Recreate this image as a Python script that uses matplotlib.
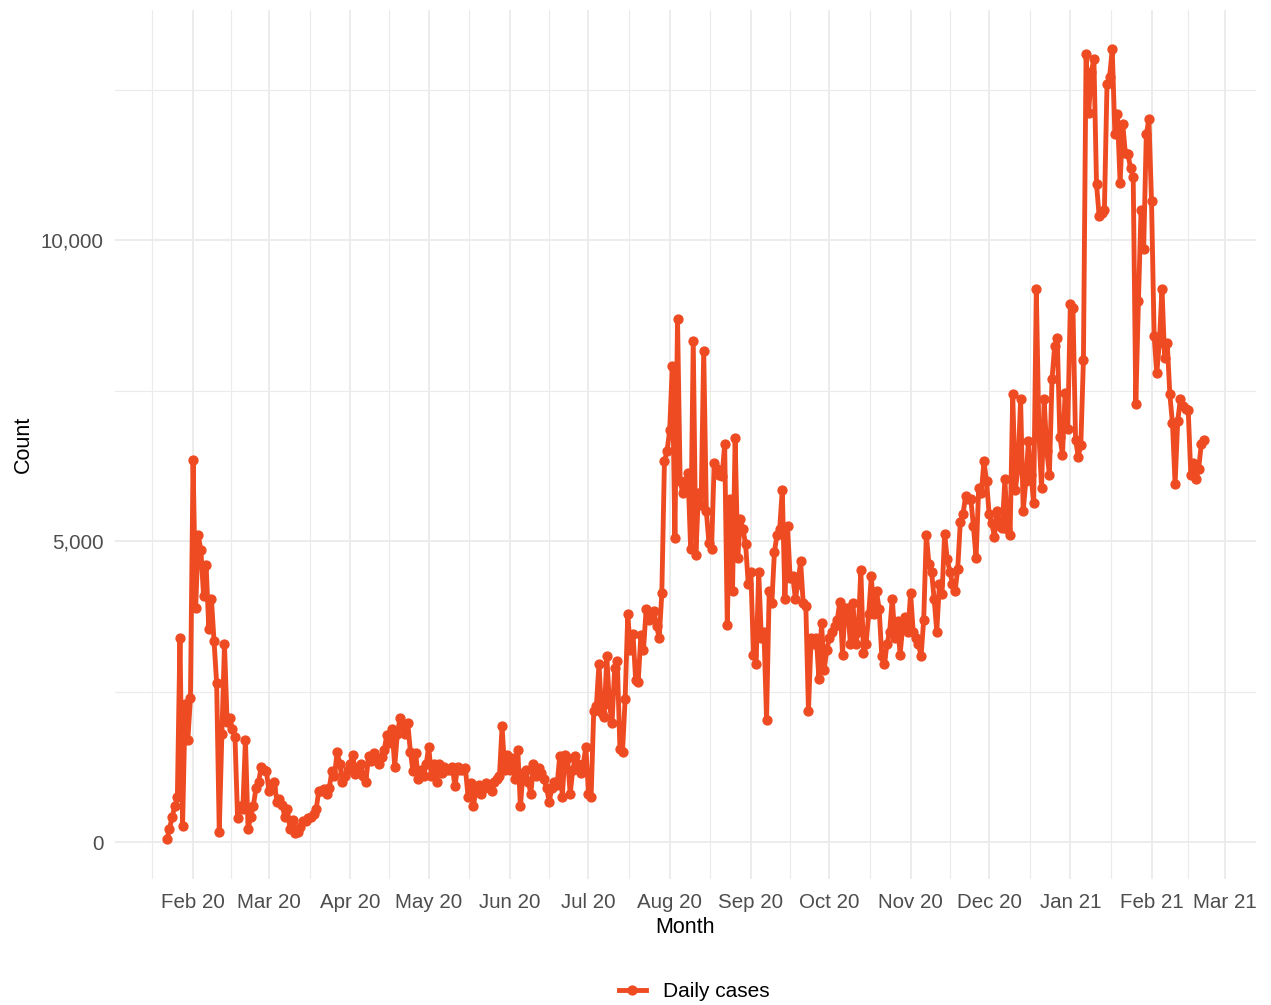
import matplotlib
matplotlib.use("Agg")
import matplotlib.pyplot as plt
import matplotlib.dates as mdates
from matplotlib.ticker import FuncFormatter, FixedLocator
import pandas as pd

# daily counts (series starts 22 Jan 2020)
jan20 = [50, 230, 420, 600, 750, 3400, 280, 2300, 1700, 2400]
feb20 = [6350, 3900, 5100, 4850, 4100, 4600, 3550, 4050, 3350, 2650, 180, 1800, 3290, 2000, 2060,
         1890, 1760, 400, 600, 550, 1710, 220, 430, 600, 900, 1000, 1250, 1200, 1180]
mar20 = [850, 900, 1010, 680, 730, 630, 430, 550, 230, 380, 150, 180, 250, 350, 350, 400, 420, 470,
         550, 850, 850, 880, 800, 900, 1180, 1100, 1500, 1310, 1010, 1100, 1200]
apr20 = [1300, 1460, 1130, 1250, 1300, 1100, 1010, 1430, 1350, 1480, 1400, 1310, 1420, 1540, 1790,
         1650, 1890, 1260, 1800, 2060, 1930, 1800, 1980, 1500, 1180, 1480, 1060, 1200, 1100, 1300]
may20 = [1590, 1100, 1310, 1010, 1300, 1150, 1250, 1200, 1200, 1260, 930, 1250, 1200, 1200, 1230,
         760, 980, 600, 850, 960, 800, 900, 980, 900, 850, 1000, 1060, 1100, 1930, 1200, 1450]
jun20 = [1200, 1400, 1050, 1540, 600, 1150, 1210, 1000, 810, 1310, 1100, 1230, 1150, 1050, 900,
         680, 900, 1010, 950, 1430, 760, 1460, 1400, 810, 1200, 1430, 1310, 1150, 1300, 1590]
jul20 = [800, 760, 2180, 2260, 2970, 2150, 2090, 3090, 2300, 1980, 2900, 3010, 1560, 1510, 2390,
         3790, 3200, 3470, 2700, 2670, 3450, 3200, 3870, 3700, 3800, 3840, 3600, 3390, 4140, 6330, 6500]
aug20 = [6850, 7910, 5050, 8690, 6000, 5800, 6000, 6130, 4880, 8320, 4780, 5800, 5600, 8160, 5500,
         4970, 4880, 6300, 6200, 6100, 6080, 6610, 3620, 5700, 4170, 6710, 4720, 5380, 5200, 4950, 4300]
sep20 = [4500, 3120, 2970, 4500, 3400, 3500, 2040, 4170, 3970, 4830, 5110, 5200, 5860, 4050, 5250,
         4400, 4420, 4050, 4300, 4670, 3970, 3920, 2180, 3390, 3300, 3390, 2720, 3640, 2870, 3200]
oct20 = [3400, 3500, 3600, 3700, 4000, 3120, 3900, 3890, 3300, 3970, 3290, 3500, 4530, 3140, 3300,
         3800, 4420, 3800, 4170, 3870, 3090, 2960, 3300, 3500, 4050, 3400, 3670, 3120, 3600, 3750, 3500]
nov20 = [4140, 3500, 3400, 3300, 3090, 3700, 5110, 4630, 4500, 4040, 3500, 4290, 4120, 5130, 4700,
         4500, 4290, 4170, 4550, 5330, 5450, 5750, 5700, 5700, 5250, 4720, 5880, 5800, 6330, 6000]
dec20 = [5450, 5300, 5080, 5500, 5250, 5220, 6030, 5200, 5110, 7440, 5860, 6200, 7360, 5500, 6000,
         6660, 6100, 5630, 9190, 6800, 5880, 7360, 6500, 6110, 7690, 8240, 8370, 6740, 6440, 7460, 6860]
jan21 = [8940, 8870, 6690, 6410, 6600, 8020, 13090, 12110, 12800, 13010, 10930, 10400, 10450, 10500,
         12590, 12720, 13170, 11760, 12090, 10950, 11940, 11450, 11430, 11200, 11060, 7290, 8990,
         10510, 9850, 11760, 12010]
feb21 = [10650, 8410, 7790, 8300, 9200, 8040, 8300, 7440, 6960, 5950, 7000, 7360, 7250, 7200, 7190,
         6110, 6300, 6030, 6210, 6610, 6690]

counts = (jan20 + feb20 + mar20 + apr20 + may20 + jun20 + jul20 + aug20 + sep20 + oct20
          + nov20 + dec20 + jan21 + feb21)
dates = pd.date_range("2020-01-22", periods=len(counts), freq="D")

plt.rcParams["font.family"] = ["Liberation Sans", "DejaVu Sans"]
col = "#EE4B22"
grid = "#EBEBEB"

fig = plt.figure(figsize=(12.71, 10.05), dpi=100)
ax = fig.add_axes([0.0905, 0.1254, 0.8975, 0.8647])

ax.plot(dates, counts, color=col, lw=3.5, marker="o", ms=6.4, label="Daily cases",
        solid_joinstyle="round", zorder=3)

# ggplot-like 5% expansion
span = dates[-1] - dates[0]
ax.set_xlim(dates[0] - span * 0.05, dates[-1] + span * 0.05)
lo, hi = min(counts), max(counts)
ax.set_ylim(lo - 0.05 * (hi - lo), hi + 0.05 * (hi - lo))

months = pd.date_range("2020-01-01", "2021-04-01", freq="MS")
ax.xaxis.set_major_locator(mdates.MonthLocator())
ax.xaxis.set_major_formatter(mdates.DateFormatter("%b %y"))
mids = [mdates.date2num(a) + (mdates.date2num(b) - mdates.date2num(a)) / 2
        for a, b in zip(months[:-1], months[1:])]
ax.xaxis.set_minor_locator(FixedLocator(mids))

ax.set_yticks([0, 5000, 10000])
ax.set_yticks([2500, 7500, 12500], minor=True)
ax.yaxis.set_major_formatter(FuncFormatter(lambda v, p: f"{int(v):,}"))

ax.grid(which="major", color=grid, lw=1.3)
ax.grid(which="minor", color=grid, lw=0.8)
ax.set_axisbelow(True)
for s in ax.spines.values():
    s.set_visible(False)
ax.tick_params(which="both", length=0)
ax.tick_params(axis="x", labelsize=14.8, colors="#4D4D4D", pad=10)
ax.tick_params(axis="y", labelsize=14.8, colors="#4D4D4D", pad=8)

ax.set_xlabel("Month", fontsize=15.5, labelpad=4)
ax.set_ylabel("Count", fontsize=15.5, labelpad=5)

fig.legend(loc="center", bbox_to_anchor=(0.546, 0.013), frameon=False, numpoints=1,
           fontsize=15, handlelength=1.3, handletextpad=0.8)

fig.savefig("out.png", dpi=100)
